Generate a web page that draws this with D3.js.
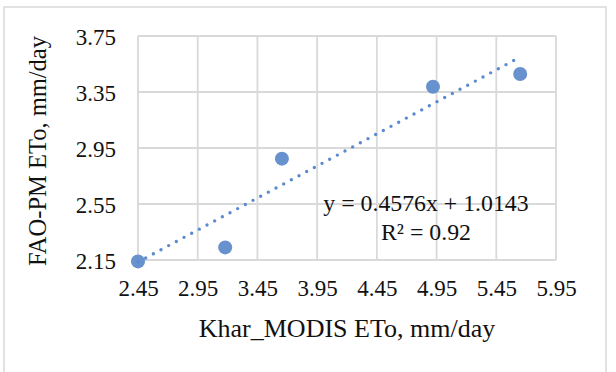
<!DOCTYPE html>
<meta charset="utf-8">
<style>
    body { margin: 0; background: #fff; }
    text { font-family: "Liberation Serif", "Times New Roman", serif; fill: #111; }
</style>
<body>
    <svg width="616" height="372"></svg>
</body>
<script src="https://cdnjs.cloudflare.com/ajax/libs/d3/7.8.5/d3.min.js"></script>
<script>

    // data
    var modisEto = [2.45, 3.18, 3.655, 4.92, 5.65];
    var faoEto   = [2.14, 2.24, 2.874, 3.388, 3.479];

    var xTicks = [2.45, 2.95, 3.45, 3.95, 4.45, 4.95, 5.45, 5.95];
    var yTicks = [2.15, 2.55, 2.95, 3.35, 3.75];

    var slope = 0.4576, intercept = 1.0143, rSquared = 0.92;
    var trendEndX = 5.61;

    var svg = d3.select("svg"),
        width = +svg.attr("width"),
        height = +svg.attr("height");

    var margin = { left: 138, right: 60, top: 36, bottom: 112 };

    // outer chart frame
    svg.append("rect")
        .attr("x", 4).attr("y", 7)
        .attr("width", 602).attr("height", 380)
        .attr("fill", "none")
        .attr("stroke", "#d9d9d9")
        .attr("stroke-width", 1.5);

    var x = d3.scaleLinear()
        .domain([xTicks[0], xTicks[xTicks.length - 1]])
        .range([margin.left, width - margin.right]);

    var y = d3.scaleLinear()
        .domain([yTicks[0], yTicks[yTicks.length - 1]])
        .range([height - margin.bottom, margin.top]);

    //gridlines (they also make the plot frame)
    var grid = svg.append("g").attr("class", "grid");

    grid.selectAll("line.v")
        .data(xTicks)
        .enter().append("line")
        .attr("class", "v")
        .attr("x1", d => x(d)).attr("x2", d => x(d))
        .attr("y1", y.range()[0]).attr("y2", y.range()[1])
        .attr("stroke", "#d9d9d9").attr("stroke-width", 1.8);

    grid.selectAll("line.h")
        .data(yTicks)
        .enter().append("line")
        .attr("class", "h")
        .attr("x1", x.range()[0]).attr("x2", x.range()[1])
        .attr("y1", d => y(d)).attr("y2", d => y(d))
        .attr("stroke", "#d9d9d9").attr("stroke-width", 1.8);

    //axes, only the labels are visible
    var xAxis = svg.append("g")
        .attr("transform", "translate(0," + y.range()[0] + ")")
        .call(d3.axisBottom(x).tickValues(xTicks).tickFormat(d3.format(".2f")).tickSize(0).tickPadding(22));

    var yAxis = svg.append("g")
        .attr("transform", "translate(" + x.range()[0] + ",0)")
        .call(d3.axisLeft(y).tickValues(yTicks).tickFormat(d3.format(".2f")).tickSize(0).tickPadding(22));

    [xAxis, yAxis].forEach(function(a){
        a.select(".domain").remove();
        a.selectAll("text")
            .attr("font-family", null)
            .style("font-size", "23px")
            .style("fill", "#111");
    });
    xAxis.selectAll("text").attr("dy", "0.6em");
    yAxis.selectAll("text").attr("dy", "0.36em");

    //points
    var pts = modisEto.map((d, i) => ({ x: d, y: faoEto[i] }));

    svg.append("g")
        .selectAll("circle")
        .data(pts)
        .enter().append("circle")
        .attr("cx", d => x(d.x))
        .attr("cy", d => y(d.y))
        .attr("r", 7)
        .attr("fill", "#6892ce");

    //linear trendline, dotted
    var trendX = [d3.min(modisEto), trendEndX];
    svg.append("line")
        .attr("x1", x(trendX[0])).attr("y1", y(slope * trendX[0] + intercept))
        .attr("x2", x(trendX[1])).attr("y2", y(slope * trendX[1] + intercept))
        .attr("stroke", "#5b8ad0")
        .attr("stroke-width", 3.4)
        .attr("stroke-linecap", "round")
        .attr("stroke-dasharray", "0 8.7");

    //equation label
    var eq = svg.append("text")
        .attr("x", 426).attr("y", 211)
        .attr("text-anchor", "middle")
        .style("font-size", "23.8px");
    eq.append("tspan").attr("x", 426).text("y = " + slope + "x + " + intercept);
    eq.append("tspan").attr("x", 426).attr("dy", 28.5).text("R² = " + rSquared);

    //axis titles
    svg.append("text")
        .attr("x", (x.range()[0] + x.range()[1]) / 2)
        .attr("y", 337)
        .attr("text-anchor", "middle")
        .style("font-size", "26px")
        .text("Khar_MODIS ETo, mm/day");

    svg.append("text")
        .attr("transform", "translate(46," + 151 + ") rotate(-90)")
        .attr("text-anchor", "middle")
        .style("font-size", "24.5px")
        .text("FAO-PM ETo, mm/day");

</script>
